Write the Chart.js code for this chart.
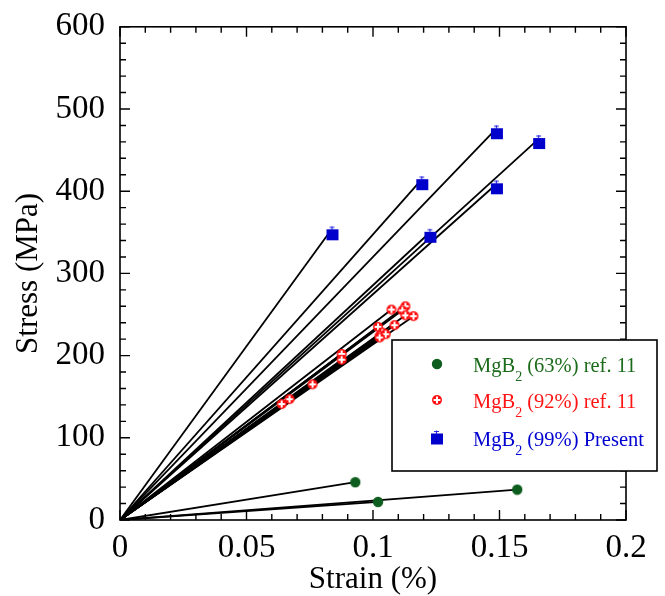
<!DOCTYPE html>
<html>
<head>
<meta charset="utf-8">
<script src="https://cdn.jsdelivr.net/npm/chart.js@4"></script>
<style>
html,body{margin:0;padding:0;background:#fff;}
#wrap{width:665px;height:596px;position:relative;}
</style>
</head>
<body>
<div id="wrap"><canvas id="c" width="665" height="596"></canvas></div>
<script>
// ---- data ----
const greenStrain = [0.093, 0.102, 0.157];
const greenStress = [46, 22, 37];

const redStrain = [0.1073, 0.1128, 0.1116, 0.1128, 0.1160, 0.1085, 0.1020, 0.1037, 0.1026, 0.1050, 0.1026, 0.0876, 0.0876, 0.0761, 0.0670, 0.0639];
const redStress = [256, 260, 255, 249, 248, 237, 235, 228, 224, 226, 222, 202, 195, 165, 147, 141];

const blueStrain = [0.0828, 0.1183, 0.1478, 0.1645, 0.1478, 0.1215];
const blueStress = [350, 411, 473, 461, 406, 347];

const xTicks = [0, 0.05, 0.1, 0.15, 0.2];
const yTicks = [0, 100, 200, 300, 400, 500, 600];

const legendLabels = [
  {pre: 'MgB', sub: '2', post: ' (63%) ref. 11', color: '#1b6b1b', marker: 'green'},
  {pre: 'MgB', sub: '2', post: ' (92%) ref. 11', color: '#ff1414', marker: 'red'},
  {pre: 'MgB', sub: '2', post: ' (99%) Present', color: '#0000d0', marker: 'blue'}
];

const FONT = '"Liberation Serif", "DejaVu Serif", serif';

// ---- marker images ----
function mkGreen() {
  const c = document.createElement('canvas'); c.width = 12; c.height = 12;
  const g = c.getContext('2d');
  g.fillStyle = '#0d5e1e'; g.beginPath(); g.arc(6, 6, 5.2, 0, Math.PI * 2); g.fill();
  return c;
}
function mkRed() {
  const c = document.createElement('canvas'); c.width = 12; c.height = 12;
  const g = c.getContext('2d');
  g.fillStyle = '#ff1010'; g.beginPath(); g.arc(6, 6, 5, 0, Math.PI * 2); g.fill();
  g.strokeStyle = '#fff'; g.lineWidth = 2;
  g.beginPath(); g.moveTo(6, 2.6); g.lineTo(6, 9.4); g.moveTo(2.6, 6); g.lineTo(9.4, 6); g.stroke();
  return c;
}
function mkBlue() {
  // data point at canvas centre (12,12); square sits slightly right/below it
  const c = document.createElement('canvas'); c.width = 24; c.height = 24;
  const g = c.getContext('2d');
  g.fillStyle = '#0000cc'; g.fillRect(9, 9, 12, 11);
  g.strokeStyle = '#2a2ae0'; g.lineWidth = 1.2;
  g.beginPath(); g.moveTo(14.5, 6); g.lineTo(14.5, 9.5); g.moveTo(12, 7); g.lineTo(17, 7); g.stroke();
  return c;
}
function mkBlueLegend() {
  const c = document.createElement('canvas'); c.width = 14; c.height = 16;
  const g = c.getContext('2d');
  g.fillStyle = '#0000cc'; g.fillRect(1, 3.5, 12, 11);
  g.strokeStyle = '#2a2ae0'; g.lineWidth = 1.2;
  g.beginPath(); g.moveTo(6.5, 0.5); g.lineTo(6.5, 4); g.moveTo(4, 1.5); g.lineTo(9, 1.5); g.stroke();
  return c;
}
const markers = {green: mkGreen(), red: mkRed(), blue: mkBlue()};
const legendMarkers = {green: markers.green, red: markers.red, blue: mkBlueLegend()};

// ---- datasets ----
const datasets = [];
function addLines(xs, ys) {
  for (let i = 0; i < xs.length; i++) {
    datasets.push({
      type: 'line', data: [{x: 0, y: 0}, {x: xs[i], y: ys[i]}],
      borderColor: '#000', borderWidth: 1.8, pointRadius: 0, fill: false, showLine: true, order: 2
    });
  }
}
addLines(greenStrain, greenStress);
addLines(redStrain, redStress);
addLines(blueStrain, blueStress);
function pts(xs, ys) { return xs.map((x, i) => ({x: x, y: ys[i]})); }
datasets.push({type: 'scatter', data: pts(greenStrain, greenStress), pointStyle: markers.green, pointRadius: 6, order: 1});
datasets.push({type: 'scatter', data: pts(redStrain, redStress), pointStyle: markers.red, pointRadius: 6, order: 1});
datasets.push({type: 'scatter', data: pts(blueStrain, blueStress), pointStyle: markers.blue, pointRadius: 12, order: 1});

// ---- frame, inner ticks, titles, legend ----
const framePlugin = {
  id: 'frame',
  afterDraw(chart) {
    const ctx = chart.ctx, a = chart.chartArea;
    const xs = chart.scales.x, ys = chart.scales.y;
    ctx.save();
    ctx.strokeStyle = '#000'; ctx.lineWidth = 1.6;
    ctx.strokeRect(a.left, a.top, a.right - a.left, a.bottom - a.top);
    ctx.lineWidth = 1.4;
    ctx.beginPath();
    for (let i = 0; i <= 20; i++) {
      const v = i * 0.01, px = xs.getPixelForValue(v);
      const len = (i % 5 === 0) ? 10 : 6;
      ctx.moveTo(px, a.bottom); ctx.lineTo(px, a.bottom - len);
      ctx.moveTo(px, a.top); ctx.lineTo(px, a.top + len);
    }
    for (let i = 0; i <= 30; i++) {
      const v = i * 20, py = ys.getPixelForValue(v);
      const len = (i % 5 === 0) ? 10 : 6;
      ctx.moveTo(a.left, py); ctx.lineTo(a.left + len, py);
      ctx.moveTo(a.right, py); ctx.lineTo(a.right - len, py);
    }
    ctx.stroke();

    // axis titles
    ctx.fillStyle = '#000';
    ctx.font = '31px ' + FONT;
    ctx.textAlign = 'center'; ctx.textBaseline = 'middle';
    ctx.fillText('Strain (%)', (a.left + a.right) / 2, 580);
    ctx.save();
    ctx.translate(29, (a.top + a.bottom) / 2);
    ctx.rotate(-Math.PI / 2);
    ctx.fillText('Stress (MPa)', 0, 0);
    ctx.restore();

    // legend box
    const bx = 392, by = 340, bw = 265, bh = 131;
    ctx.fillStyle = '#fff';
    ctx.fillRect(bx, by, bw, bh);
    ctx.lineWidth = 1.6; ctx.strokeStyle = '#000';
    ctx.strokeRect(bx, by, bw, bh);
    const rowY = [364, 400, 438];
    ctx.textAlign = 'left'; ctx.textBaseline = 'alphabetic';
    legendLabels.forEach((L, i) => {
      const m = legendMarkers[L.marker];
      ctx.drawImage(m, 437 - m.width / 2, rowY[i] - m.height / 2);
      let tx = 473; const base = rowY[i] + 8;
      ctx.fillStyle = L.color;
      ctx.font = '20.5px ' + FONT;
      ctx.fillText(L.pre, tx, base); tx += ctx.measureText(L.pre).width;
      ctx.font = '14px ' + FONT;
      ctx.fillText(L.sub, tx, base + 9); tx += ctx.measureText(L.sub).width;
      ctx.font = '20.5px ' + FONT;
      ctx.fillText(L.post, tx, base);
    });
    ctx.restore();
  }
};

new Chart(document.getElementById('c'), {
  type: 'scatter',
  data: {datasets: datasets},
  options: {
    responsive: false, animation: false, devicePixelRatio: 1,
    layout: {padding: {left: 0, top: 17, right: 39, bottom: 0}},
    plugins: {legend: {display: false}, tooltip: {enabled: false}},
    scales: {
      x: {
        type: 'linear', min: 0, max: 0.2,
        afterFit(s) { s.height = 76; },
        afterBuildTicks(s) { s.ticks = xTicks.map(v => ({value: v})); },
        grid: {display: false}, border: {display: false},
        ticks: {
          color: '#000', font: {family: FONT, size: 33}, padding: 1, maxRotation: 0, autoSkip: false,
          callback: v => String(Number(v.toFixed(2)))
        }
      },
      y: {
        type: 'linear', min: 0, max: 600,
        afterFit(s) { s.width = 120; },
        afterBuildTicks(s) { s.ticks = yTicks.map(v => ({value: v})); },
        grid: {display: false}, border: {display: false},
        ticks: {color: '#000', font: {family: FONT, size: 33}, padding: 7, autoSkip: false}
      }
    }
  },
  plugins: [framePlugin]
});
</script>
</body>
</html>
